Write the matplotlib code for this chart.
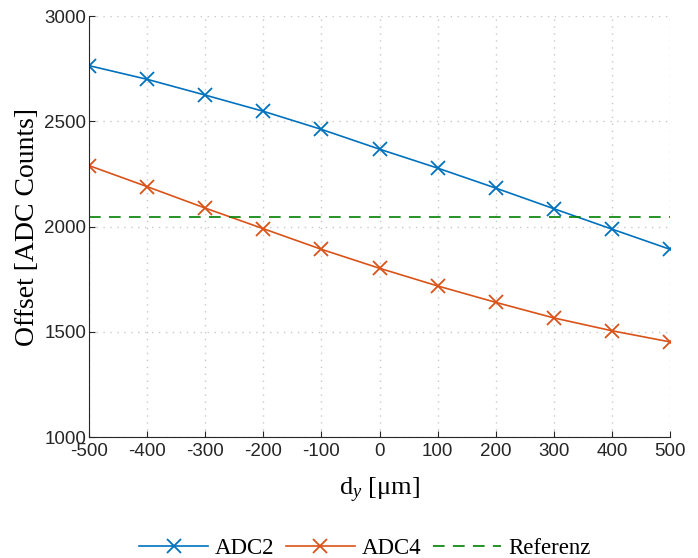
import numpy as np
import matplotlib
matplotlib.use("Agg")
import matplotlib.pyplot as plt

# messwerte
d_y = [-500, -400, -300, -200, -100, 0, 100, 200, 300, 400, 500]
adc2 = [2765, 2700, 2625, 2548, 2462, 2368, 2278, 2183, 2085, 1988, 1892]
adc4 = [2290, 2190, 2088, 1990, 1892, 1802, 1718, 1640, 1566, 1505, 1452]
referenz = 2048

plt.rcParams['mathtext.fontset'] = 'custom'
plt.rcParams['mathtext.rm'] = 'Liberation Serif'
plt.rcParams['mathtext.it'] = 'Liberation Serif:italic'
plt.rcParams['axes.unicode_minus'] = False
plt.rcParams['font.family'] = 'Liberation Sans'

fig = plt.figure(figsize=(6.98, 5.58), dpi=100)
ax = fig.add_axes([0.1275, 0.2168, 0.8325, 0.7542])

ax.plot(d_y, adc2, color='#0072BD', marker='x', markersize=10, markeredgewidth=1.3, lw=1.2, label='ADC2')
ax.plot(d_y, adc4, color='#D95319', marker='x', markersize=10, markeredgewidth=1.3, lw=1.2, label='ADC4')
ax.plot(d_y, [referenz] * len(d_y), color='#008000', ls=(0, (7, 5)), lw=1.2, label='Referenz')

ax.set_xlim(-500, 500)
ax.set_ylim(1000, 3000)
ax.set_xticks(np.arange(-500, 501, 100))
ax.set_yticks([1000, 1500, 2000, 2500, 3000])
ax.grid(True, ls=(0, (1, 4)), color='#c8c8c8', lw=1.0)
ax.set_axisbelow(True)

for s in ['top', 'right']:
    ax.spines[s].set_visible(False)
for s in ['left', 'bottom']:
    ax.spines[s].set_color('#262626')
ax.tick_params(direction='in', length=4, colors='#262626', labelsize=13.5)
ax.tick_params(axis='y', pad=2)
ax.tick_params(axis='x', pad=4)

ax.set_xlabel(r'$\mathrm{d}_{\mathit{y}}$ [μm]', fontsize=19, family='Liberation Serif', labelpad=12)
ax.set_ylabel('Offset [ADC Counts]', fontsize=20, family='Liberation Serif', labelpad=3)

fig.legend(loc='lower center', bbox_to_anchor=(0.523, -0.038), ncol=3, frameon=False,
           prop={'family': 'Liberation Serif', 'size': 16.5}, handlelength=3.0,
           columnspacing=0.5, handletextpad=0.3)

fig.savefig('out.png', dpi=100)
